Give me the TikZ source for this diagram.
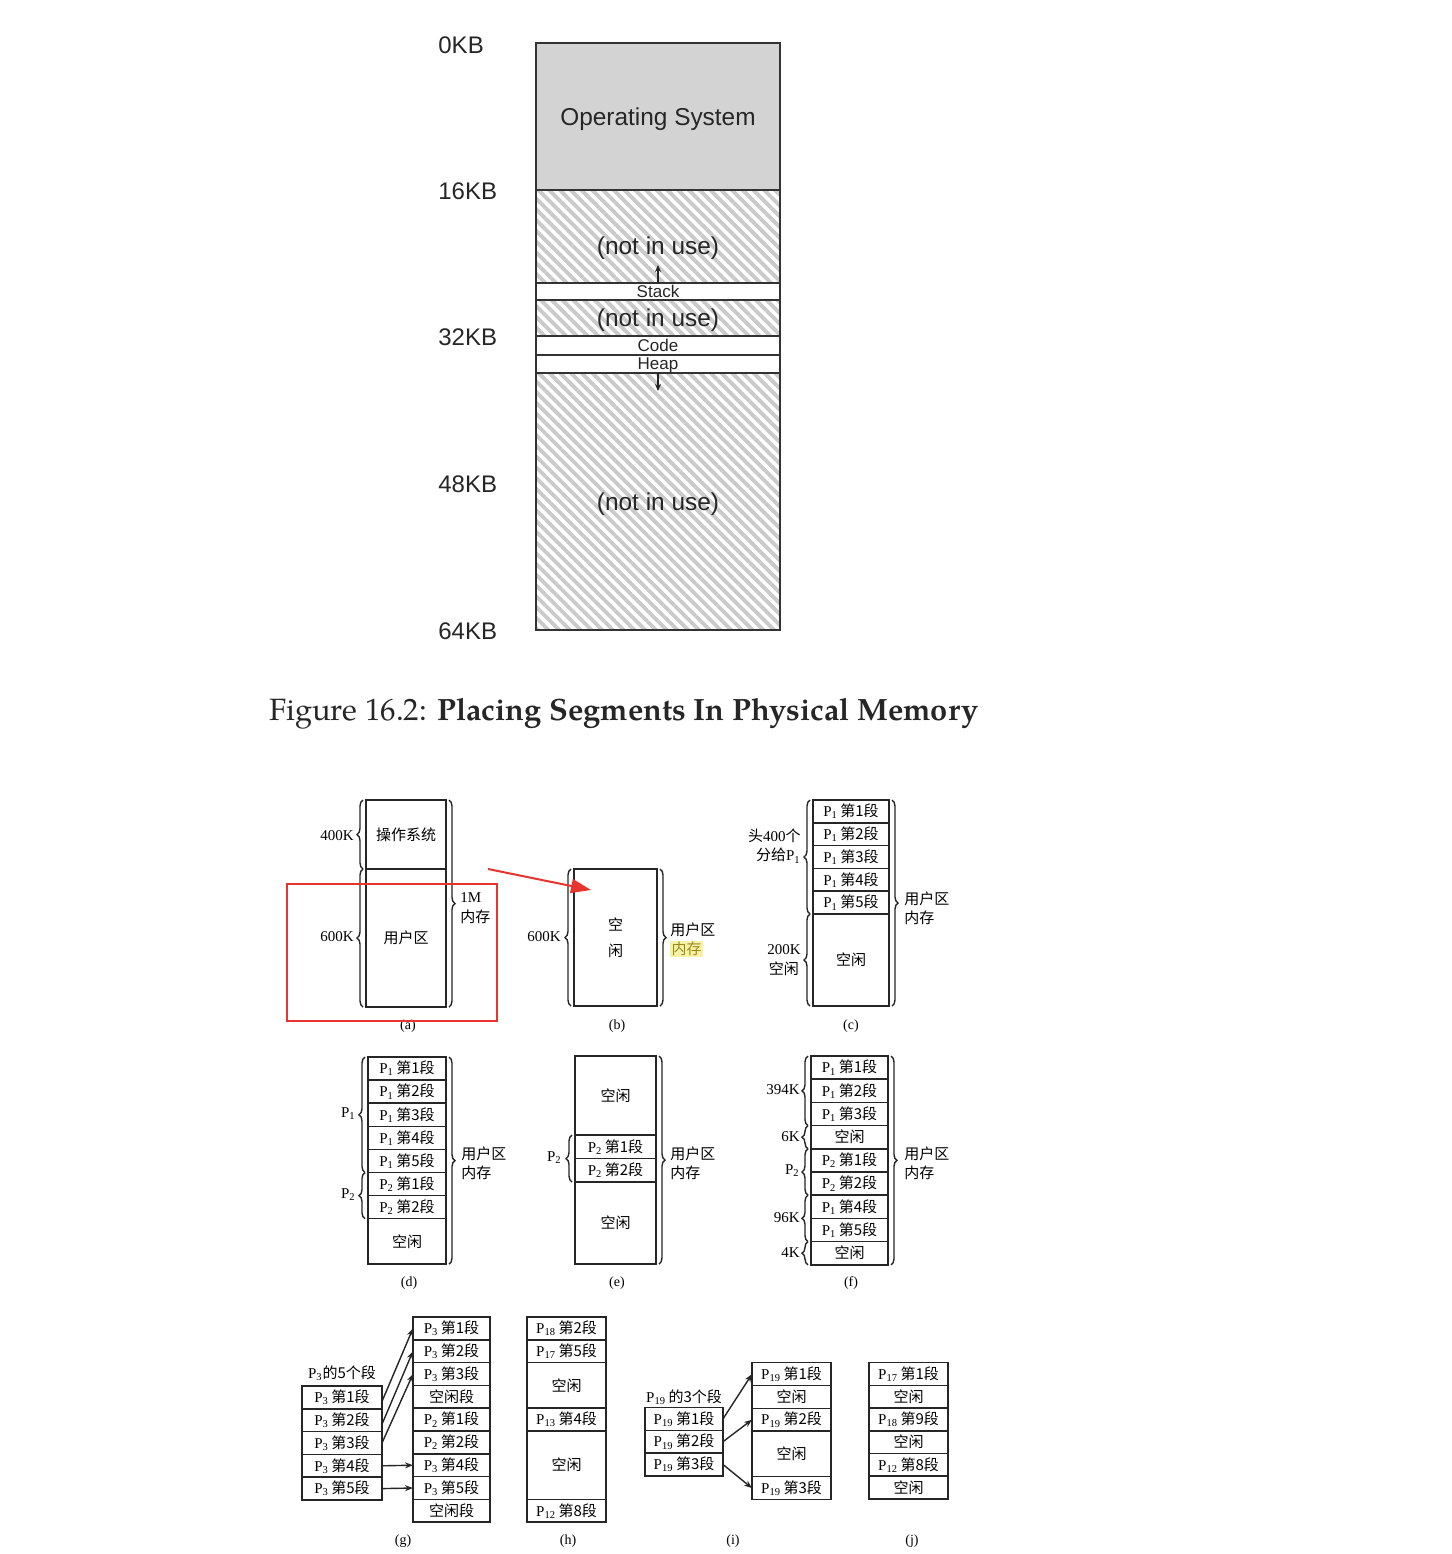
\documentclass[tikz,border=0pt]{standalone}
\usepackage{fontspec}
\setmainfont{Liberation Sans}
\newfontfamily\cjk{Noto Sans CJK SC}
\newfontfamily\bser{Liberation Serif}
\newfontfamily\capfont{TeX Gyre Pagella}
\usetikzlibrary{patterns.meta,decorations.pathreplacing,arrows.meta,calc}
\definecolor{osgray}{HTML}{D3D3D3}
\definecolor{hatch}{HTML}{CACACA}
\definecolor{redbox}{HTML}{E8342E}
\definecolor{hlbg}{HTML}{F7F3A6}
\definecolor{hltx}{HTML}{9B8A1E}
\newcommand\Pn[1]{{\bser P\textsubscript{#1}}}
\newcommand\segt[2]{\Pn{#1}\,{\cjk 第#2段}}
\newcommand\kx[1]{{\cjk #1}}
\begin{document}
\begin{tikzpicture}[x=0.5pt,y=-0.5pt,
  boxw/.style={minimum width=#1*0.5pt},
  boxh/.style={minimum height=#1*0.5pt},
  mcell/.style={draw=black!80,line width=1pt,inner sep=0pt,outer sep=0pt,anchor=north west,minimum width=122pt,font=\fontsize{12.2}{14}\selectfont,text=black!85,text depth=0pt},
  hatched/.style={pattern={Lines[angle=-45,distance=3.8pt,line width=1.9pt]},pattern color=hatch},
  stxt/.style={font=\fontsize{8.5}{10}\selectfont},
  kb/.style={anchor=west,inner sep=0pt,font=\fontsize{12}{14}\selectfont,text=black!85},
  cell/.style={draw=black!85,line width=0.75pt,inner sep=0pt,outer sep=0pt,anchor=north west,font=\fontsize{7.5}{9.7}\selectfont},
  bt/.style={font=\fontsize{7.5}{9.7}\selectfont,inner sep=0pt},
  br/.style={decorate,decoration={brace,amplitude=3pt},line width=0.7pt,draw=black!85},
  plab/.style={font=\fontsize{7}{8}\selectfont\bser,inner sep=0pt},
  segarrow/.style={-{Stealth[length=4pt,width=3pt]},line width=0.7pt,draw=black!85},
  marrow/.style={-{Stealth[length=3.5pt,width=3pt]},line width=0.6pt,draw=black!85},
  ]
\fill[white] (0,0) rectangle (1452,1554);
\useasboundingbox (0,0) rectangle (1452,1554);

% ---------- top figure ----------
\node[mcell,boxh=147,fill=osgray] (mos) at (536,43) {Operating System};
\node[mcell,boxh=93,hatched] (mf1) at (536,190) {};
\node[mcell,boxh=17,fill=white,stxt] (mstk) at (536,283) {Stack};
\node[mcell,boxh=36,hatched] (mf2) at (536,300) {(not in use)};
\node[mcell,boxh=19,fill=white,stxt] (mcode) at (536,336) {Code};
\node[mcell,boxh=18,fill=white,stxt] (mheap) at (536,355) {Heap};
\node[mcell,boxh=257,hatched] (mf3) at (536,373) {(not in use)};
\node[font=\fontsize{12.2}{14}\selectfont,text=black!85,inner sep=0pt,text depth=0pt] (mt1) at (658,246) {(not in use)};
\coordinate (upend) at (658,265);
\coordinate (dnend) at (658,391);
\draw[marrow] (mstk.north) -- (upend);
\draw[marrow] (mheap.south) -- (dnend);
\node[kb] (k0) at (438,45) {0KB};
\node[kb] (k16) at (438,191) {16KB};
\node[kb] (k32) at (438,337) {32KB};
\node[kb] (k48) at (438,484) {48KB};
\node[kb] (k64) at (438,631) {64KB};
\node[font=\fontsize{15.4}{18}\selectfont\capfont,text=black!85,inner sep=0pt] (cap) at (624,714) {Figure 16.2: \textbf{Placing Segments In Physical Memory}};

% ---------- (a) ----------
\node[cell,boxw=80,boxh=69] (a1) at (366,800) {\kx{操作系统}};
\node[cell,boxw=80,boxh=138] (a2) at (366,869) {\kx{用户区}};
\draw[br] ([xshift=-1.5pt]a1.south west) -- ([xshift=-1.5pt]a1.north west);
\draw[br] ([xshift=-1.5pt]a2.south west) -- ([xshift=-1.5pt]a2.north west);
\draw[br] ([xshift=1.5pt]a1.north east) -- ([xshift=1.5pt]a2.south east);
\node[bt,anchor=east] (la1) at (354,836) {\bser 400K};
\node[bt,anchor=east] (la2) at (354,937) {\bser 600K};
\node[bt,anchor=west,align=left] (la3) at (460,908) {{\bser 1M}\\\kx{内存}};
\node[plab] (capa) at (408,1026) {(a)};

% ---------- (b) ----------
\node[cell,boxw=83,boxh=137,align=center] (b1) at (574,869) {\kx{空}\\[3.3pt]\kx{闲}};
\draw[br] ([xshift=-1.5pt]b1.south west) -- ([xshift=-1.5pt]b1.north west);
\draw[br] ([xshift=1.5pt]b1.north east) -- ([xshift=1.5pt]b1.south east);
\node[bt,anchor=east] (lb1) at (561,937) {\bser 600K};
\node[bt,anchor=west,align=left] (lb2) at (670,940) {\kx{用户区}\\{\fboxsep=0.6pt\colorbox{hlbg}{\textcolor{hltx}{\kx{内存}}}}};
\node[plab] (capb) at (617,1026) {(b)};

% ---------- (c) ----------
\node[cell,boxw=76,boxh=22.8] (c1) at (813,800) {\segt{1}{1}};
\node[cell,boxw=76,boxh=22.8] (c2) at (813,822.8) {\segt{1}{2}};
\node[cell,boxw=76,boxh=22.8] (c3) at (813,845.6) {\segt{1}{3}};
\node[cell,boxw=76,boxh=22.8] (c4) at (813,868.4) {\segt{1}{4}};
\node[cell,boxw=76,boxh=22.8] (c5) at (813,891.2) {\segt{1}{5}};
\node[cell,boxw=76,boxh=92] (c6) at (813,914) {\kx{空闲}};
\draw[br] ([xshift=-1.5pt]c5.south west) -- ([xshift=-1.5pt]c1.north west);
\draw[br] ([xshift=-1.5pt]c6.south west) -- ([xshift=-1.5pt]c6.north west);
\draw[br] ([xshift=1.5pt]c1.north east) -- ([xshift=1.5pt]c6.south east);
\node[bt,anchor=east,align=right] (lc1) at (801,846) {\kx{头}{\bser 400}\kx{个}\\\kx{分给}\Pn{1}};
\node[bt,anchor=east,align=center] (lc2) at (801,960) {{\bser 200K}\\\kx{空闲}};
\node[bt,anchor=west,align=left] (lc3) at (904,908) {\kx{用户区}\\\kx{内存}};
\node[plab] (capc) at (851,1026) {(c)};

% ---------- (d) ----------
\node[cell,boxw=78,boxh=23.1] (d1) at (368,1057) {\segt{1}{1}};
\node[cell,boxw=78,boxh=23.1] (d2) at (368,1080.1) {\segt{1}{2}};
\node[cell,boxw=78,boxh=23.1] (d3) at (368,1103.2) {\segt{1}{3}};
\node[cell,boxw=78,boxh=23.1] (d4) at (368,1126.3) {\segt{1}{4}};
\node[cell,boxw=78,boxh=23.1] (d5) at (368,1149.4) {\segt{1}{5}};
\node[cell,boxw=78,boxh=23.1] (d6) at (368,1172.5) {\segt{2}{1}};
\node[cell,boxw=78,boxh=23.1] (d7) at (368,1195.6) {\segt{2}{2}};
\node[cell,boxw=78,boxh=45.4] (d8) at (368,1218.7) {\kx{空闲}};
\draw[br] ([xshift=-1.5pt]d5.south west) -- ([xshift=-1.5pt]d1.north west);
\draw[br] ([xshift=-1.5pt]d7.south west) -- ([xshift=-1.5pt]d6.north west);
\draw[br] ([xshift=1.5pt]d1.north east) -- ([xshift=1.5pt]d8.south east);
\node[bt,anchor=east] (ld1) at (356,1114) {\Pn{1}};
\node[bt,anchor=east] (ld2) at (356,1195) {\Pn{2}};
\node[bt,anchor=west,align=left] (ld3) at (461,1163) {\kx{用户区}\\\kx{内存}};
\node[plab] (capd) at (409,1283) {(d)};

% ---------- (e) ----------
\node[cell,boxw=81,boxh=79] (e1) at (575,1056) {\kx{空闲}};
\node[cell,boxw=81,boxh=23.5] (e2) at (575,1135) {\segt{2}{1}};
\node[cell,boxw=81,boxh=23.5] (e3) at (575,1158.5) {\segt{2}{2}};
\node[cell,boxw=81,boxh=82] (e4) at (575,1182) {\kx{空闲}};
\draw[br] ([xshift=-1.5pt]e3.south west) -- ([xshift=-1.5pt]e2.north west);
\draw[br] ([xshift=1.5pt]e1.north east) -- ([xshift=1.5pt]e4.south east);
\node[bt,anchor=east] (le1) at (562,1158) {\Pn{2}};
\node[bt,anchor=west,align=left] (le2) at (670,1163) {\kx{用户区}\\\kx{内存}};
\node[plab] (cape) at (617,1283) {(e)};

% ---------- (f) ----------
\node[cell,boxw=77,boxh=23.2] (fr1) at (811,1056) {\segt{1}{1}};
\node[cell,boxw=77,boxh=23.2] (fr2) at (811,1079.2) {\segt{1}{2}};
\node[cell,boxw=77,boxh=23.2] (fr3) at (811,1102.4) {\segt{1}{3}};
\node[cell,boxw=77,boxh=23.2] (fr4) at (811,1125.6) {\kx{空闲}};
\node[cell,boxw=77,boxh=23.2] (fr5) at (811,1148.8) {\segt{2}{1}};
\node[cell,boxw=77,boxh=23.2] (fr6) at (811,1172) {\segt{2}{2}};
\node[cell,boxw=77,boxh=23.2] (fr7) at (811,1195.2) {\segt{1}{4}};
\node[cell,boxw=77,boxh=23.2] (fr8) at (811,1218.4) {\segt{1}{5}};
\node[cell,boxw=77,boxh=23.2] (fr9) at (811,1241.6) {\kx{空闲}};
\draw[br] ([xshift=-1.5pt]fr3.south west) -- ([xshift=-1.5pt]fr1.north west);
\draw[br] ([xshift=-1.5pt]fr4.south west) -- ([xshift=-1.5pt]fr4.north west);
\draw[br] ([xshift=-1.5pt]fr6.south west) -- ([xshift=-1.5pt]fr5.north west);
\draw[br] ([xshift=-1.5pt]fr8.south west) -- ([xshift=-1.5pt]fr7.north west);
\draw[br] ([xshift=-1.5pt]fr9.south west) -- ([xshift=-1.5pt]fr9.north west);
\draw[br] ([xshift=1.5pt]fr1.north east) -- ([xshift=1.5pt]fr9.south east);
\node[bt,anchor=east] (lf1) at (800,1090) {\bser 394K};
\node[bt,anchor=east] (lf2) at (800,1137) {\bser 6K};
\node[bt,anchor=east] (lf3) at (800,1171) {\Pn{2}};
\node[bt,anchor=east] (lf4) at (800,1218) {\bser 96K};
\node[bt,anchor=east] (lf5) at (800,1253) {\bser 4K};
\node[bt,anchor=west,align=left] (lf6) at (904,1163) {\kx{用户区}\\\kx{内存}};
\node[plab] (capf) at (851,1283) {(f)};

% ---------- (g) ----------
\node[cell,boxw=80,boxh=22.8] (gL1) at (302,1386) {\segt{3}{1}};
\node[cell,boxw=80,boxh=22.8] (gL2) at (302,1408.8) {\segt{3}{2}};
\node[cell,boxw=80,boxh=22.8] (gL3) at (302,1431.6) {\segt{3}{3}};
\node[cell,boxw=80,boxh=22.8] (gL4) at (302,1454.4) {\segt{3}{4}};
\node[cell,boxw=80,boxh=22.8] (gL5) at (302,1477.2) {\segt{3}{5}};
\node[bt] (gT) at (342,1373) {\Pn{3}\kx{的5个段}};
\node[cell,boxw=77,boxh=22.8] (gR1) at (413,1317) {\segt{3}{1}};
\node[cell,boxw=77,boxh=22.8] (gR2) at (413,1339.8) {\segt{3}{2}};
\node[cell,boxw=77,boxh=22.8] (gR3) at (413,1362.6) {\segt{3}{3}};
\node[cell,boxw=77,boxh=22.8] (gR4) at (413,1385.4) {\kx{空闲段}};
\node[cell,boxw=77,boxh=22.8] (gR5) at (413,1408.2) {\segt{2}{1}};
\node[cell,boxw=77,boxh=22.8] (gR6) at (413,1431) {\segt{2}{2}};
\node[cell,boxw=77,boxh=22.8] (gR7) at (413,1453.8) {\segt{3}{4}};
\node[cell,boxw=77,boxh=22.8] (gR8) at (413,1476.6) {\segt{3}{5}};
\node[cell,boxw=77,boxh=22.8] (gR9) at (413,1499.4) {\kx{空闲段}};
\draw[segarrow] ([yshift=-2pt]gL1.east) -- (gR1.west);
\draw[segarrow] ([yshift=-2pt]gL2.east) -- (gR2.west);
\draw[segarrow] (gL3.east) -- (gR3.west);
\draw[segarrow] (gL4.east) -- (gR7.west);
\draw[segarrow] (gL5.east) -- (gR8.west);
\node[plab] (capg) at (403,1541) {(g)};

% ---------- (h) ----------
\node[cell,boxw=79,boxh=22.8] (h1) at (527,1317) {\segt{18}{2}};
\node[cell,boxw=79,boxh=22.8] (h2) at (527,1339.8) {\segt{17}{5}};
\node[cell,boxw=79,boxh=45.6] (h3) at (527,1362.6) {\kx{空闲}};
\node[cell,boxw=79,boxh=22.8] (h4) at (527,1408.2) {\segt{13}{4}};
\node[cell,boxw=79,boxh=68.4] (h5) at (527,1431) {\kx{空闲}};
\node[cell,boxw=79,boxh=22.8] (h6) at (527,1499.4) {\segt{12}{8}};
\node[plab] (caph) at (568,1541) {(h)};

% ---------- (i) ----------
\node[cell,boxw=78,boxh=22.8] (iL1) at (645,1407.5) {\segt{19}{1}};
\node[cell,boxw=78,boxh=22.8] (iL2) at (645,1430.3) {\segt{19}{2}};
\node[cell,boxw=78,boxh=22.8] (iL3) at (645,1453.1) {\segt{19}{3}};
\node[bt] (iT) at (684,1397) {\Pn{19}\,\kx{的3个段}};
\node[cell,boxw=79,boxh=22.8] (iR1) at (752,1362.7) {\segt{19}{1}};
\node[cell,boxw=79,boxh=22.8] (iR2) at (752,1385.5) {\kx{空闲}};
\node[cell,boxw=79,boxh=22.8] (iR3) at (752,1408.3) {\segt{19}{2}};
\node[cell,boxw=79,boxh=45.6] (iR4) at (752,1431.1) {\kx{空闲}};
\node[cell,boxw=79,boxh=22.8] (iR5) at (752,1476.7) {\segt{19}{3}};
\draw[segarrow] (iL1.east) -- (iR1.west);
\draw[segarrow] (iL2.east) -- (iR3.west);
\draw[segarrow] (iL3.east) -- (iR5.west);
\node[plab] (capi) at (733,1541) {(i)};

% ---------- (j) ----------
\node[cell,boxw=79,boxh=22.7] (j1) at (869,1362.7) {\segt{17}{1}};
\node[cell,boxw=79,boxh=22.7] (j2) at (869,1385.4) {\kx{空闲}};
\node[cell,boxw=79,boxh=22.7] (j3) at (869,1408.1) {\segt{18}{9}};
\node[cell,boxw=79,boxh=22.7] (j4) at (869,1430.8) {\kx{空闲}};
\node[cell,boxw=79,boxh=22.7] (j5) at (869,1453.5) {\segt{12}{8}};
\node[cell,boxw=79,boxh=22.7] (j6) at (869,1476.2) {\kx{空闲}};
\node[plab] (capj) at (912,1541) {(j)};

% ---------- red annotation ----------
\node[draw=redbox,line width=1.3pt,inner sep=0pt,outer sep=0pt,anchor=north west,boxw=210,boxh=137] (redb) at (287,884) {};
\coordinate (ra) at (488,869);
\coordinate (rb) at (591,890);
\draw[redbox,line width=1pt,-{Triangle[length=10pt,width=7pt]}] (ra) -- (rb);
\end{tikzpicture}
\end{document}
